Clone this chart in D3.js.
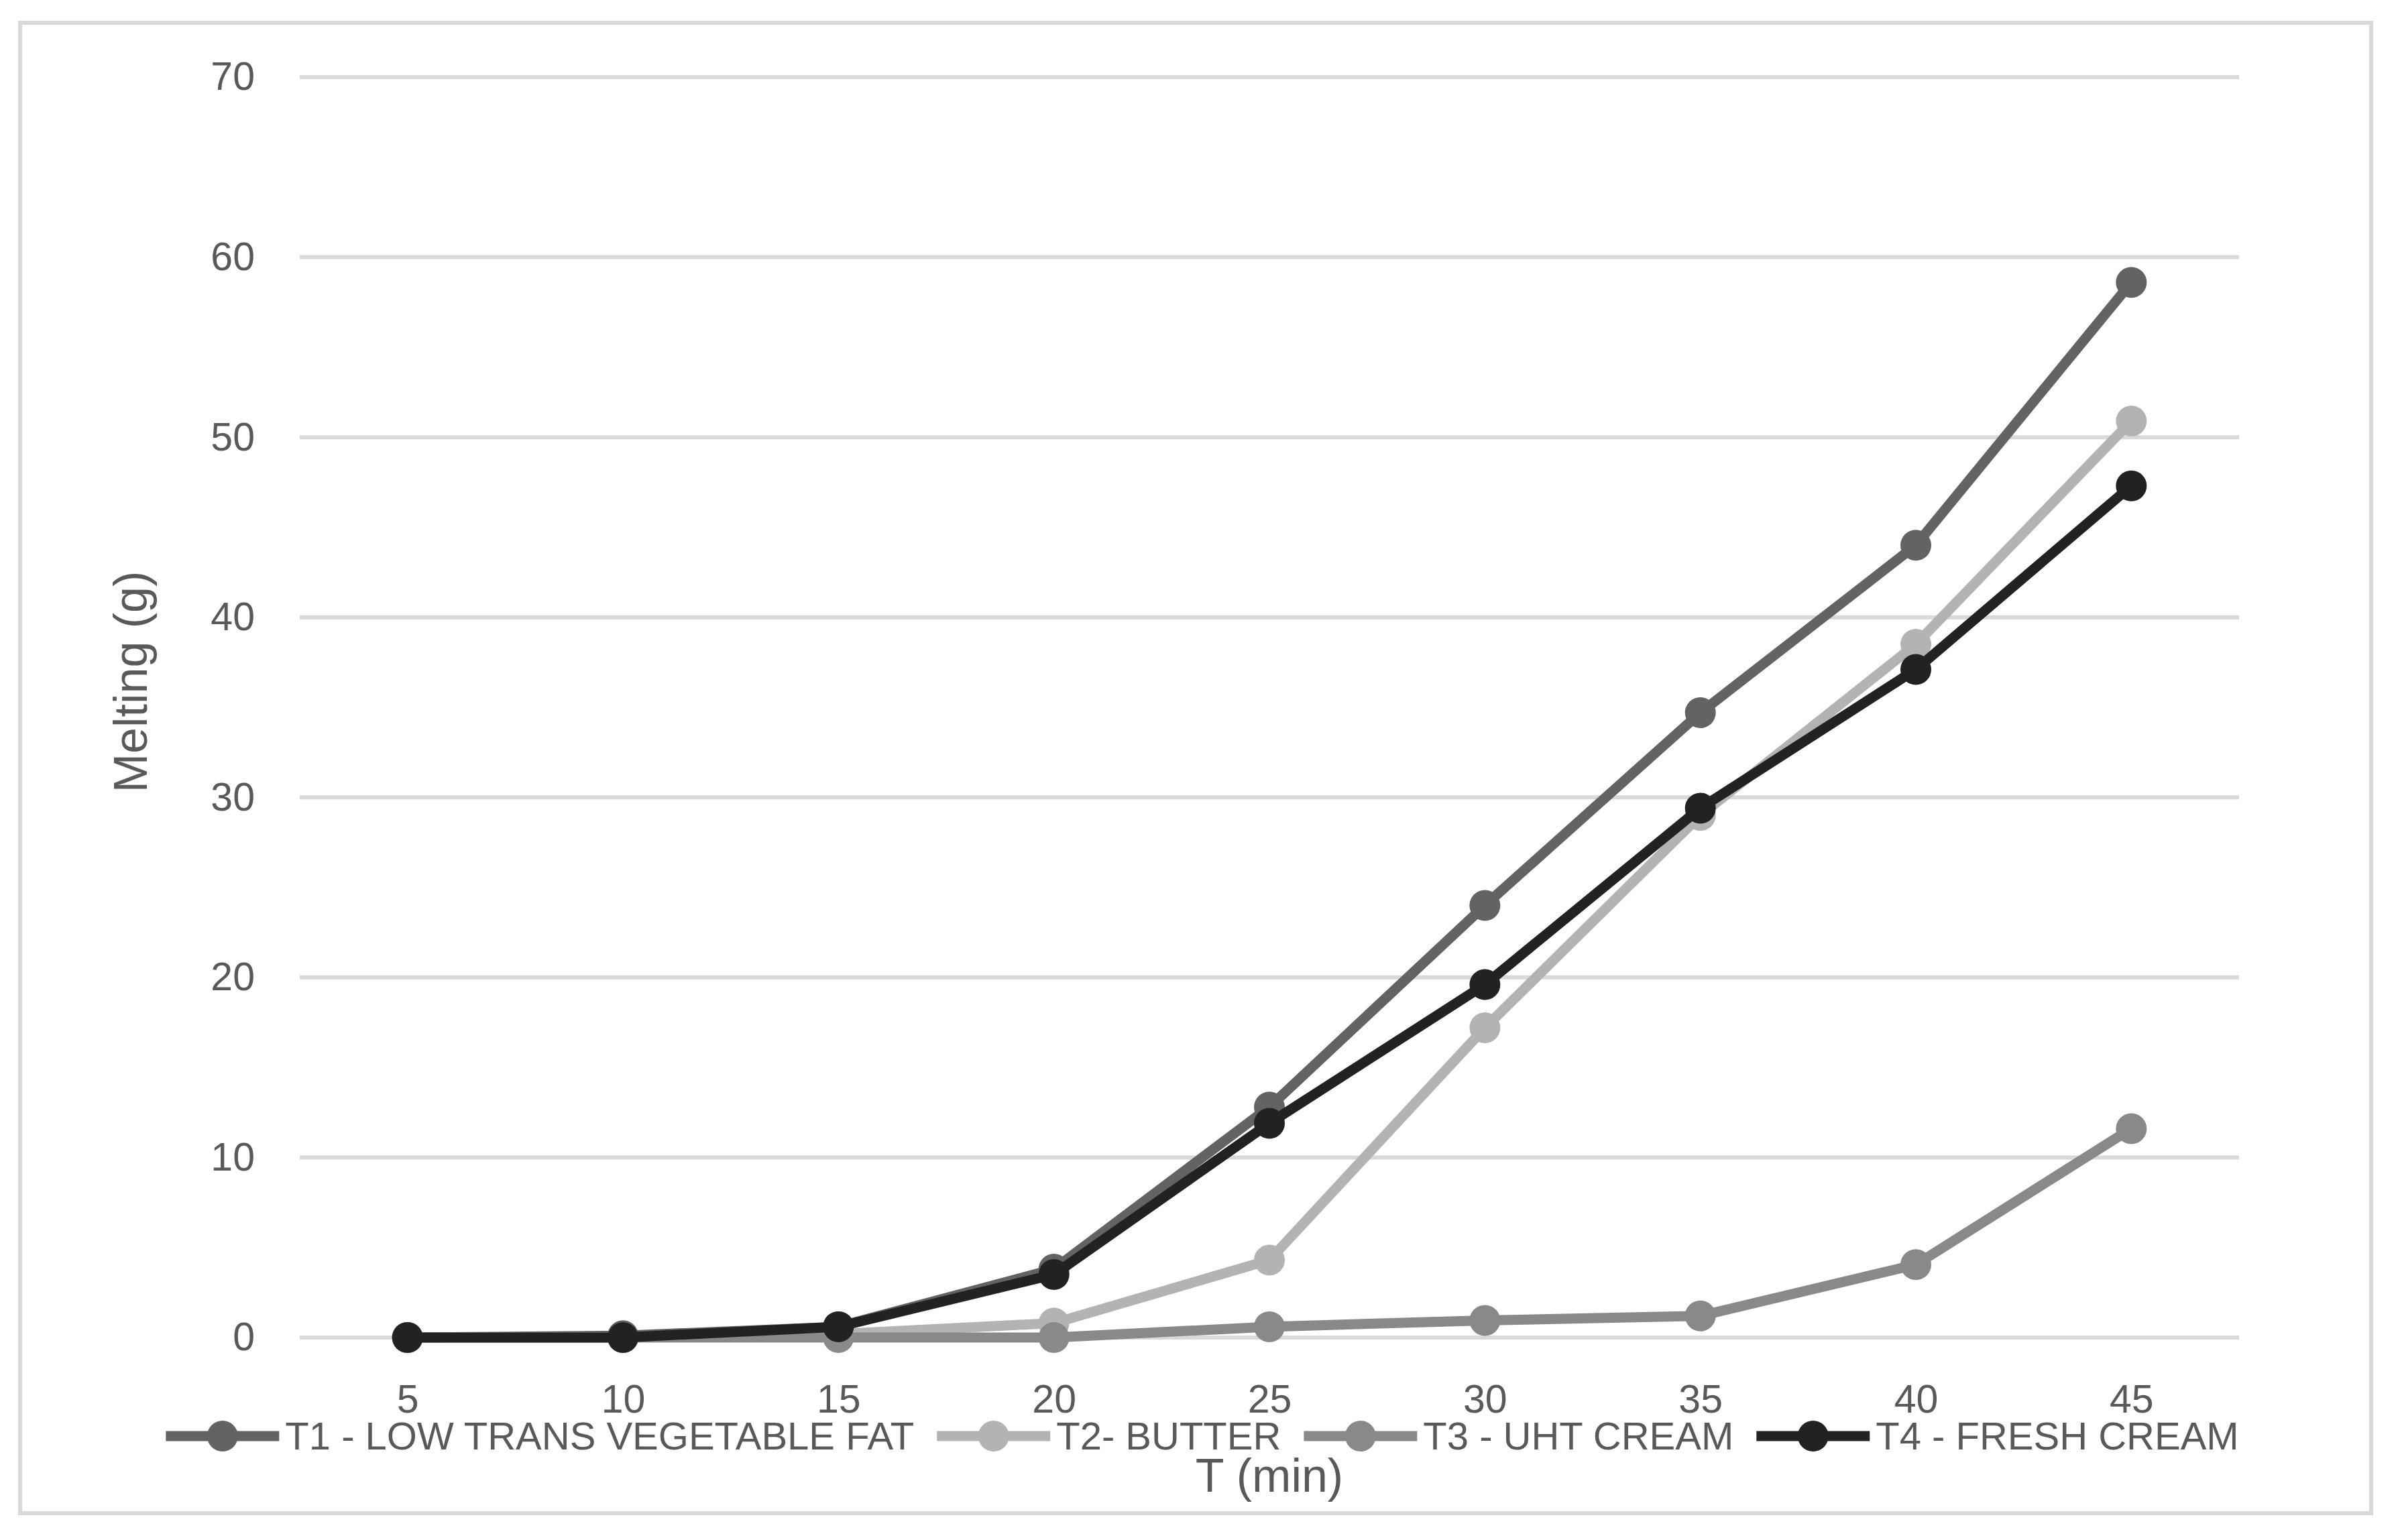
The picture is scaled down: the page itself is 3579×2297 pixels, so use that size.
<!DOCTYPE html>
<html>
<head>
<meta charset="utf-8">
<script src="https://cdn.jsdelivr.net/npm/d3@7"></script>
<style>
  html, body { margin: 0; padding: 0; background: #fff; }
  text { font-family: "Liberation Sans", Arial, sans-serif; fill: #595959; }
</style>
</head>
<body>
<svg id="chart" width="3579" height="2297"></svg>
<script>
// melting (g), per time step
var categories = [5, 10, 15, 20, 25, 30, 35, 40, 45];
var t1 = [0, 0.1, 0.6, 3.8, 12.8, 24.0, 34.7, 44.0, 58.6];
var t2 = [0, 0, 0.2, 0.8, 4.3, 17.2, 29.0, 38.5, 50.9];
var t3 = [0, 0, 0, 0, 0.6, 0.95, 1.2, 4.05, 11.6];
var t4 = [0, 0, 0.6, 3.5, 11.9, 19.6, 29.4, 37.1, 47.3];
var seriesNames = ["T1 - LOW TRANS VEGETABLE FAT", "T2- BUTTER", "T3 - UHT CREAM", "T4 - FRESH CREAM"];
var yTicks = [0, 10, 20, 30, 40, 50, 60, 70];

var colors = ["#636363", "#b3b3b3", "#898989", "#222222"];
var allSeries = [t1, t2, t3, t4];

var svg = d3.select("#chart");
var fontSize = 59;
var titleSize = 70;

// outer chart border
svg.append("rect")
    .attr("x", 30).attr("y", 34)
    .attr("width", 3506).attr("height", 2223)
    .attr("fill", "#fff")
    .attr("stroke", "#d9d9d9")
    .attr("stroke-width", 6);

var x = d3.scalePoint().domain(categories).range([447, 3339]).padding(0.5);
var y = d3.scaleLinear().domain([0, 70]).range([1995, 115]);

// gridlines
svg.append("g").selectAll("line")
    .data(yTicks)
    .enter().append("line")
    .attr("x1", 447).attr("x2", 3339)
    .attr("y1", function(d){ return y(d); })
    .attr("y2", function(d){ return y(d); })
    .attr("stroke", "#d9d9d9")
    .attr("stroke-width", 6);

// y axis via d3.axisLeft, then stripped of domain/ticks
var yAxis = svg.append("g")
    .attr("transform", "translate(380,0)")
    .call(d3.axisLeft(y).tickValues(yTicks).tickSize(0).tickPadding(0));
yAxis.select(".domain").remove();
yAxis.selectAll("text")
    .attr("font-size", fontSize)
    .attr("font-family", null)
    .attr("fill", "#595959");

var xAxis = svg.append("g")
    .attr("transform", "translate(0,2065)")
    .call(d3.axisBottom(x).tickSize(0).tickPadding(0));
xAxis.select(".domain").remove();
xAxis.selectAll("text")
    .attr("font-size", fontSize)
    .attr("font-family", null)
    .attr("fill", "#595959");

// series
var line = d3.line()
    .x(function(d, i){ return x(categories[i]); })
    .y(function(d){ return y(d); });

allSeries.forEach(function(s, k){
    var g = svg.append("g");
    g.append("path")
        .datum(s)
        .attr("d", line)
        .attr("fill", "none")
        .attr("stroke", colors[k])
        .attr("stroke-width", 15)
        .attr("stroke-linejoin", "round");
    g.selectAll("circle")
        .data(s)
        .enter().append("circle")
        .attr("cx", function(d, i){ return x(categories[i]); })
        .attr("cy", function(d){ return y(d); })
        .attr("r", 23)
        .attr("fill", colors[k]);
});

// axis titles
svg.append("text")
    .attr("x", 1893).attr("y", 2200)
    .attr("dy", "0.35em")
    .attr("text-anchor", "middle")
    .attr("font-size", titleSize)
    .text("T (min)");

svg.append("text")
    .attr("transform", "translate(194,1017) rotate(-90)")
    .attr("dy", "0.35em")
    .attr("text-anchor", "middle")
    .attr("font-size", titleSize)
    .text("Melting (g)");

// legend
var legend = svg.append("g");
var legendY = 2142, symW = 169, symGap = 9, itemGap = 34;
var cursor = 0;
seriesNames.forEach(function(name, k){
    var it = legend.append("g");
    it.append("line")
        .attr("x1", 0).attr("x2", symW)
        .attr("y1", legendY).attr("y2", legendY)
        .attr("stroke", colors[k])
        .attr("stroke-width", 15);
    it.append("circle")
        .attr("cx", symW / 2).attr("cy", legendY)
        .attr("r", 23)
        .attr("fill", colors[k]);
    var t = it.append("text")
        .attr("x", symW + symGap).attr("y", legendY)
        .attr("dy", "0.35em")
        .attr("font-size", 58)
        .text(name);
    var w = symW + symGap + t.node().getComputedTextLength();
    it.attr("transform", "translate(" + cursor + ",0)");
    cursor += w + itemGap;
});
var total = cursor - itemGap;
legend.attr("transform", "translate(" + (1793 - total / 2) + ",0)");
</script>
</body>
</html>
